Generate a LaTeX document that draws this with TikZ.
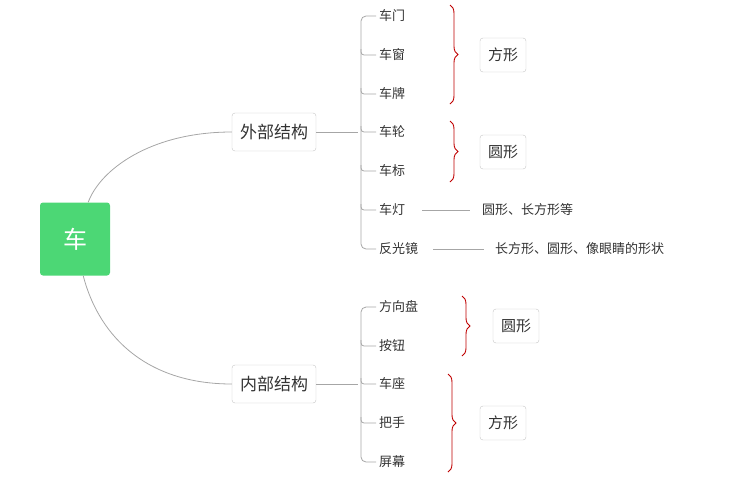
\documentclass[tikz,border=0pt]{standalone}
\usepackage{fontspec}
\setmainfont{Noto Sans CJK SC}
\usetikzlibrary{positioning,calc,decorations.pathreplacing}
\begin{document}
\begin{tikzpicture}[x=1pt,y=-1pt,
    root/.style={rectangle, rounded corners=3pt, fill=green!55!teal!70!white, text=white,
                 minimum width=70pt, minimum height=73pt, font=\fontsize{24}{24}\selectfont},
    box/.style={rectangle, rounded corners=3pt, draw=gray!45, fill=white, text=black!80,
                 minimum height=38pt, inner xsep=8pt, font=\fontsize{17}{17}\selectfont},
    leaf/.style={anchor=west, inner sep=3pt, text=black!80, font=\fontsize{13}{13}\selectfont},
    note/.style={anchor=west, inner sep=0pt, text=black!80, font=\fontsize{13}{13}\selectfont},
    link/.style={draw=gray!70, line width=0.8pt},
    curl/.style={draw=red!75!black, line width=0.9pt, decorate,
                 decoration={brace, amplitude=8pt}}]
  \useasboundingbox (0,0) rectangle (737,483);

  \node [root] (car) at (75,239) {车};
  \node [box] (outer) at (274,132) {外部结构};
  \node [box] (inner) at (274,384) {内部结构};

  % outer leaves
  \foreach \n/\t/\y in {o1/车门/16, o2/车窗/55, o3/车牌/94, o4/车轮/132,
                        o5/车标/171, o6/车灯/210, o7/反光镜/249}
    \node [leaf] (\n) at (376,\y) {\t};
  % inner leaves
  \foreach \n/\t/\y in {i1/方向盘/307, i2/按钮/346, i3/车座/384, i4/把手/423, i5/屏幕/462}
    \node [leaf] (\n) at (376,\y) {\t};

  % shape labels
  \node [box, minimum height=34pt, font=\fontsize{15}{15}\selectfont] (sq1) at (503,55) {方形};
  \node [box, minimum height=34pt, font=\fontsize{15}{15}\selectfont] (ro1) at (503,152) {圆形};
  \node [box, minimum height=34pt, font=\fontsize{15}{15}\selectfont] (ro2) at (516,326) {圆形};
  \node [box, minimum height=34pt, font=\fontsize{15}{15}\selectfont] (sq2) at (503,423) {方形};
  \node [note] (lamp) at (482,210) {圆形、长方形等};
  \node [note] (mirror) at (495,249) {长方形、圆形、像眼睛的形状};

  % root to boxes
  \draw [link] (car.north east) ++(-22,0) .. controls (100,170) and (150,132) .. (outer.west);
  \draw [link] (car.south east) ++(-27,0) .. controls (100,340) and (150,384) .. (inner.west);

  % trunks
  \coordinate (ot) at (358,132);
  \coordinate (it) at (358,384);
  \draw [link] (outer.east) -- (ot);
  \draw [link] (inner.east) -- (it);
  \draw [link, rounded corners=5pt] (o1.west) -- ($(o1.west)+(-15,0)$) |- (o7.west);
  \draw [link, rounded corners=5pt] (i1.west) -- ($(i1.west)+(-15,0)$) |- (i5.west);
  \foreach \n in {o2,o3,o4,o5,o6,i2,i3,i4}
    \draw [link, rounded corners=3pt] ($(\n.west)+(-15,-6)$) |- (\n.west);

  % notes
  \draw [link] (o6.east) ++(14,0) -- ($(lamp.west)+(-12,0)$);
  \draw [link] (o7.east) ++(12,0) -- ($(mirror.west)+(-11,0)$);

  % braces
  \draw [curl] (450,5) -- (450,104) coordinate [midway] (b1);
  \draw [curl] (450,121) -- (450,182);
  \draw [curl] (462,296) -- (462,356);
  \draw [curl] (448,374) -- (448,472);
\end{tikzpicture}
\end{document}
